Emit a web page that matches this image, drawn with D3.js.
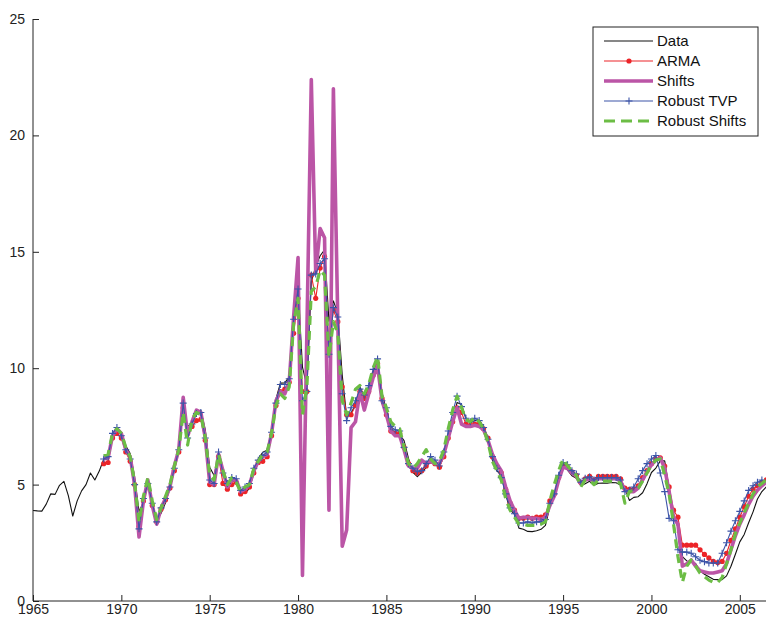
<!DOCTYPE html>
<html>
<head>
<meta charset="utf-8">
<script src="https://cdn.jsdelivr.net/npm/d3@7"></script>
<style>
  body { margin: 0; background: #fff; }
  svg { display: block; font-family: "Liberation Sans", Arial, sans-serif; }
  .tick-label { font-size: 14px; fill: #222; }
  .key-text { font-size: 15px; fill: #111; }
</style>
</head>
<body>
<svg width="766" height="622"></svg>
<script>
var svg = d3.select('svg');

// quarterly series, 3-month rate
var dataStart = 1965;
var dataValues = [
  3.89, 3.87, 3.86, 4.16,
  4.60, 4.58, 4.97, 5.14,
  4.53, 3.65, 4.30, 4.73,
  5.00, 5.50, 5.20, 5.58,
  6.09, 6.19, 7.01, 7.35,
  7.21, 6.67, 6.33, 5.35,
  3.84, 4.25, 5.01, 4.23,
  3.44, 3.77, 4.22, 4.86,
  5.70, 6.60, 8.32, 7.50,
  7.62, 8.15, 8.19, 7.36,
  5.75, 5.39, 6.33, 5.63,
  4.92, 5.16, 5.15, 4.67,
  4.63, 4.84, 5.50, 6.11,
  6.39, 6.48, 7.32, 8.68,
  9.36, 9.37, 9.63, 11.80,
  13.46, 10.05, 9.24, 13.71,
  14.37, 14.83, 15.09, 12.02,
  12.89, 12.36, 9.71, 7.93,
  8.08, 8.42, 9.19, 8.79,
  9.13, 9.84, 10.34, 8.97,
  8.18, 7.52, 7.10, 7.15,
  6.89, 6.13, 5.53, 5.34,
  5.53, 5.73, 6.03, 6.00,
  5.76, 6.23, 6.99, 7.70,
  8.53, 8.44, 7.85, 7.64,
  7.76, 7.77, 7.49, 7.02,
  6.05, 5.59, 5.41, 4.58,
  3.91, 3.72, 3.13, 3.08,
  2.99, 2.98, 3.02, 3.08,
  3.25, 4.04, 4.51, 5.28,
  5.78, 5.62, 5.38, 5.27,
  4.95, 5.04, 5.14, 4.97,
  5.06, 5.07, 5.06, 5.09,
  5.08, 4.98, 4.84, 4.32,
  4.45, 4.48, 4.65, 5.04,
  5.52, 5.71, 6.02, 6.02,
  4.82, 3.66, 3.17, 1.91,
  1.72, 1.70, 1.61, 1.30,
  1.15, 1.04, 0.93, 0.92,
  0.92, 1.08, 1.49, 2.01,
  2.54, 2.86, 3.36, 3.83,
  4.38, 4.70, 4.90
];

// forecasts start 1969Q1
var fcStart = 1969;
var armaValues = [
  5.90, 5.95, 7.00, 7.20,
  7.00, 6.40, 6.00, 5.00,
  3.20, 4.30, 5.00, 4.10,
  3.40, 3.95, 4.35, 4.85,
  5.60, 6.40, 8.30, 7.20,
  7.50, 7.75, 7.80, 6.90,
  5.00, 5.00, 6.20, 5.05,
  4.80, 5.00, 5.10, 4.60,
  4.70, 4.90, 5.50, 5.95,
  6.00, 6.20, 7.10, 8.40,
  9.00, 9.10, 9.40, 11.50,
  13.00, 9.00, 9.00, 14.00,
  13.00, 14.30, 14.80, 10.80,
  12.50, 12.00, 9.20, 8.00,
  8.00, 8.40, 9.00, 8.70,
  9.00, 9.70, 10.20, 8.70,
  8.00, 7.30, 7.20, 7.20,
  6.60, 5.90, 5.60, 5.50,
  5.60, 5.80, 6.00, 5.90,
  5.75, 6.20, 7.00, 7.70,
  8.30, 8.10, 7.60, 7.55,
  7.60, 7.60, 7.40, 7.00,
  6.20, 5.80, 5.50, 4.80,
  4.20, 3.90, 3.55, 3.55,
  3.60, 3.55, 3.60, 3.60,
  3.70, 4.30, 4.60, 5.30,
  5.85, 5.75, 5.55, 5.40,
  5.10, 5.25, 5.35, 5.20,
  5.35, 5.35, 5.35, 5.35,
  5.35, 5.25, 4.85, 4.80,
  4.80, 4.95, 5.30, 5.60,
  5.90, 6.10, 6.15, 5.80,
  4.90, 3.90, 3.60, 2.40,
  2.40, 2.40, 2.40, 2.20,
  2.00, 1.85, 1.70, 1.65,
  1.70, 2.05, 2.60, 3.10,
  3.60, 4.05, 4.50, 4.80,
  4.95, 5.10, 5.20
];
var shiftsValues = [
  6.10, 6.15, 7.10, 7.40,
  7.20, 6.50, 6.20, 5.00,
  2.75, 4.30, 5.20, 4.10,
  3.30, 4.00, 4.40, 4.90,
  5.80, 6.50, 8.75, 7.10,
  7.70, 8.20, 8.10, 7.00,
  5.10, 5.00, 6.30, 5.60,
  4.90, 5.20, 5.20, 4.70,
  4.80, 5.00, 5.60, 6.00,
  6.20, 6.30, 7.20, 8.60,
  9.00, 8.90, 9.40, 12.20,
  14.75, 1.10, 11.50, 22.40,
  14.10, 16.00, 15.60, 3.90,
  22.00, 12.00, 2.35, 3.05,
  7.45, 7.70, 9.00, 8.20,
  8.90, 9.60, 10.10, 8.60,
  8.00, 7.30, 7.10, 7.10,
  6.50, 5.80, 5.70, 5.70,
  6.05, 5.90, 6.00, 5.90,
  5.90, 6.30, 7.00, 7.70,
  8.30, 7.60, 7.50, 7.50,
  7.55, 7.50, 7.35, 6.90,
  6.30, 5.90, 5.60, 4.90,
  4.30, 3.90, 3.55, 3.60,
  3.60, 3.55, 3.55, 3.50,
  3.60, 4.10, 4.50, 5.20,
  5.75, 5.70, 5.50, 5.35,
  5.05, 5.20, 5.25, 5.15,
  5.25, 5.25, 5.25, 5.25,
  5.25, 5.15, 4.75, 4.70,
  4.70, 4.85, 5.20, 5.55,
  5.85, 6.05, 6.15, 5.70,
  4.70, 3.60, 3.30, 1.50,
  1.60, 1.76, 1.50, 1.30,
  1.25, 1.20, 1.20, 1.25,
  1.30, 1.60, 2.20, 2.80,
  3.30, 3.70, 4.15, 4.50,
  4.76, 4.95, 5.10
];
var tvpValues = [
  6.10, 6.20, 7.20, 7.45,
  7.10, 6.50, 6.10, 5.00,
  3.10, 4.40, 5.05, 4.20,
  3.40, 4.00, 4.40, 4.90,
  5.70, 6.50, 8.50, 7.00,
  7.60, 8.05, 8.10, 7.00,
  5.20, 5.05, 6.40, 5.50,
  5.05, 5.30, 5.25, 4.75,
  4.90, 5.05, 5.70, 6.05,
  6.25, 6.40, 7.25, 8.50,
  9.30, 9.30, 9.55, 12.10,
  13.40, 8.60, 9.00, 14.00,
  14.05, 14.50, 14.70, 10.60,
  12.60, 12.20, 8.90, 7.75,
  8.30, 8.60, 9.10, 8.85,
  9.25, 9.95, 10.40, 8.60,
  8.30, 7.50, 7.35, 7.30,
  6.60, 5.90, 5.70, 5.55,
  5.60, 5.90, 6.20, 6.05,
  5.80, 6.40, 7.30, 8.10,
  8.80, 8.35, 7.85, 7.70,
  7.85, 7.75, 7.45, 6.95,
  6.20, 5.70, 5.30, 4.60,
  4.00, 3.75, 3.35, 3.35,
  3.40, 3.35, 3.40, 3.40,
  3.50, 4.20, 4.60, 5.40,
  5.95, 5.85, 5.60, 5.45,
  5.10, 5.27, 5.33, 5.20,
  5.30, 5.30, 5.30, 5.30,
  5.30, 5.20, 4.70, 4.76,
  4.90, 5.25, 5.60, 5.90,
  6.10, 6.25, 5.50, 4.70,
  3.55, 3.45, 2.20, 2.10,
  2.10, 2.05, 1.90, 1.75,
  1.69, 1.63, 1.63, 1.63,
  2.05, 2.50, 3.00, 3.45,
  3.85, 4.30, 4.75, 4.95,
  5.10, 5.20
];
var robustShiftsValues = [
  6.25, 6.30, 7.20, 7.40,
  7.20, 6.60, 6.20, 5.10,
  3.40, 4.50, 5.30, 4.30,
  3.50, 4.00, 4.50, 5.00,
  5.80, 6.50, 8.10, 6.70,
  7.80, 8.10, 8.00, 7.00,
  5.40, 5.20, 6.30, 5.60,
  5.00, 5.30, 5.10, 4.70,
  4.90, 5.00, 5.70, 6.00,
  6.30, 6.40, 7.20, 8.40,
  8.90, 8.70, 9.20, 11.90,
  13.00, 8.00, 9.20, 13.30,
  13.50, 14.20, 14.00, 10.50,
  12.00, 11.50, 8.60, 8.00,
  8.50, 9.10, 9.26, 8.90,
  9.30, 10.00, 10.50, 8.80,
  8.30, 7.70, 7.50, 7.40,
  6.60, 5.90, 5.70, 5.90,
  6.20, 6.50, 6.10, 5.90,
  6.00, 6.50, 7.40, 8.20,
  8.80, 8.30, 7.80, 7.70,
  7.90, 7.70, 7.40, 6.80,
  6.00, 5.60, 5.20, 4.40,
  3.90, 3.60, 3.30, 3.30,
  3.25, 3.25, 3.25, 3.30,
  3.40, 4.30, 5.00, 5.60,
  6.10, 5.80, 5.60, 5.40,
  4.90, 5.20, 5.20, 5.00,
  5.20, 5.15, 5.15, 5.15,
  5.15, 5.05, 4.20, 4.70,
  4.75, 4.85, 5.15, 5.50,
  5.85, 6.05, 6.10, 5.40,
  4.60, 3.30, 1.90, 0.80,
  1.50, 1.76, 1.50, 1.20,
  1.05, 0.90, 0.80, 0.80,
  1.00, 1.60, 2.20, 2.90,
  3.35, 3.80, 4.20, 4.60,
  4.90, 5.05, 5.20
];

var xTicks = [1965, 1970, 1975, 1980, 1985, 1990, 1995, 2000, 2005];
var yTicks = [0, 5, 10, 15, 20, 25];
var seriesNames = ['Data', 'ARMA', 'Shifts', 'Robust TVP', 'Robust Shifts'];

var plot = {l: 33, t: 19, r: 766, b: 601};

var xScale = d3.scaleLinear().domain([1965, 2006.5]).range([plot.l, plot.l + 41.5 * 17.67]);
var yScale = d3.scaleLinear().domain([0, 25]).range([plot.b, plot.t]);

function toPoints(values, start) {
  return values.map(function(v, i) { return {year: start + i / 4, value: v}; });
}

var series = [
  {name: seriesNames[0], pts: toPoints(dataValues, dataStart), color: '#111111', width: 1.1},
  {name: seriesNames[1], pts: toPoints(armaValues, fcStart), color: '#ec2428', width: 1.1, marker: 'dot'},
  {name: seriesNames[2], pts: toPoints(shiftsValues, fcStart), color: '#bb55a6', width: 3.6},
  {name: seriesNames[3], pts: toPoints(tvpValues, fcStart), color: '#3c54a8', width: 1.1, marker: 'plus'},
  {name: seriesNames[4], pts: toPoints(robustShiftsValues, fcStart), color: '#6cbd45', width: 3.2, dash: '9,6'}
];

svg.append('defs').append('clipPath')
  .attr('id', 'clip')
  .append('rect')
  .attr('x', plot.l)
  .attr('y', plot.t - 2)
  .attr('width', plot.r - plot.l)
  .attr('height', plot.b - plot.t + 2);

var line = d3.line()
  .x(function(d) { return xScale(d.year); })
  .y(function(d) { return yScale(d.value); });

var chartG = svg.append('g').attr('clip-path', 'url(#clip)');

series.forEach(function(s) {
  var g = chartG.append('g');
  g.append('path')
    .datum(s.pts)
    .attr('d', line)
    .attr('fill', 'none')
    .attr('stroke', s.color)
    .attr('stroke-width', s.width)
    .attr('stroke-linejoin', 'round')
    .attr('stroke-dasharray', s.dash || null);

  if (s.marker == 'dot') {
    g.selectAll('circle')
      .data(s.pts)
      .enter()
      .append('circle')
      .attr('cx', function(d) { return xScale(d.year); })
      .attr('cy', function(d) { return yScale(d.value); })
      .attr('r', 2.6)
      .attr('fill', s.color);
  }
  if (s.marker == 'plus') {
    g.selectAll('.plus')
      .data(s.pts)
      .enter()
      .append('path')
      .attr('class', 'plus')
      .attr('d', function(d) {
        var x = xScale(d.year), y = yScale(d.value);
        return 'M' + (x - 3.5) + ',' + y + 'H' + (x + 3.5) + 'M' + x + ',' + (y - 3.5) + 'V' + (y + 3.5);
      })
      .attr('stroke', s.color)
      .attr('stroke-width', 1.1);
  }
});

// axes (ticks drawn inward)
var xAxis = d3.axisBottom(xScale)
  .tickValues(xTicks)
  .tickSize(-6)
  .tickPadding(3)
  .tickFormat(d3.format('d'));

var yAxis = d3.axisLeft(yScale)
  .tickValues(yTicks)
  .tickSize(-6)
  .tickPadding(8);

var xG = svg.append('g')
  .attr('transform', 'translate(0,' + plot.b + ')')
  .call(xAxis);
xG.select('.domain').attr('d', 'M' + plot.l + ',0H' + plot.r).attr('stroke', '#222');
xG.selectAll('.tick text').attr('y', 3).attr('dy', '0.71em');

var yG = svg.append('g')
  .attr('transform', 'translate(' + plot.l + ',0)')
  .call(yAxis);
yG.select('.domain').attr('d', 'M0,' + plot.b + 'V' + plot.t).attr('stroke', '#222');

svg.selectAll('.tick line').attr('stroke', '#222');
svg.selectAll('.tick text').attr('class', 'tick-label').attr('font-family', null).attr('font-size', null);

// legend
var key = svg.append('g').attr('transform', 'translate(593,27)');
key.append('rect')
  .attr('width', 165)
  .attr('height', 109)
  .attr('fill', '#fff')
  .attr('stroke', '#222')
  .attr('stroke-width', 1);

var keyRows = key.selectAll('.swatch')
  .data(series)
  .enter()
  .append('g')
  .attr('class', 'swatch')
  .attr('transform', function(d, i) { return 'translate(0,' + (14 + 20 * i) + ')'; });

keyRows.append('line')
  .attr('x1', 11)
  .attr('x2', 60)
  .attr('stroke', function(d) { return d.color; })
  .attr('stroke-width', function(d) { return d.width; })
  .attr('stroke-dasharray', function(d) { return d.dash ? '11,6' : null; });

keyRows.filter(function(d) { return d.marker == 'dot'; })
  .append('circle')
  .attr('cx', 36)
  .attr('r', 2.6)
  .attr('fill', function(d) { return d.color; });

keyRows.filter(function(d) { return d.marker == 'plus'; })
  .append('path')
  .attr('d', 'M32.5,0H39.5M36,-3.5V3.5')
  .attr('stroke', function(d) { return d.color; })
  .attr('stroke-width', 1.1);

keyRows.append('text')
  .attr('class', 'key-text')
  .attr('x', 64)
  .attr('y', 5)
  .text(function(d) { return d.name; });
</script>
</body>
</html>
